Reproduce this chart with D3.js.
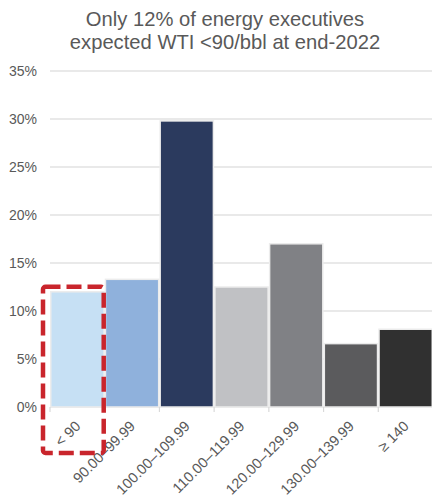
<!DOCTYPE html>
<html>
<head>
<meta charset="utf-8">
<script src="https://cdn.jsdelivr.net/npm/d3@7"></script>
<style>
  html, body { margin: 0; padding: 0; background: #ffffff; }
  svg { display: block; font-family: "Liberation Sans", Arial, Helvetica, sans-serif; }
</style>
</head>
<body>
<svg id="chart" width="432" height="500"></svg>
<script>
// WTI price buckets ($/bbl) and share of respondents (%)
const categories = ["< 90", "90.00–99.99", "100.00–109.99", "110.00–119.99", "120.00–129.99", "130.00–139.99", "≥ 140"];
const shares = [12.0, 13.3, 29.8, 12.5, 17.0, 6.6, 8.1];
const barColors = ["#c6e0f4", "#8fb1dc", "#2b3a5e", "#c0c1c4", "#808185", "#5b5b5d", "#303030"];
const yTicks = [0, 5, 10, 15, 20, 25, 30, 35];
const titleLines = ["Only 12% of energy executives", "expected WTI <90/bbl at end-2022"];
const highlighted = "< 90";

const svg = d3.select("#chart");
const margin = { left: 50, right: -1, top: 71, bottom: 93 };
const width = 432, height = 500;

const x = d3.scaleBand()
  .domain(categories)
  .range([margin.left, width - margin.right])
  .paddingInner(0)
  .paddingOuter(0);

const y = d3.scaleLinear()
  .domain([0, 35])
  .range([height - margin.bottom, margin.top]);

// Title
svg.append("text")
  .attr("x", 225)
  .attr("y", 26)
  .attr("text-anchor", "middle")
  .attr("fill", "#595959")
  .style("font-size", "20.2px")
  .selectAll("tspan")
  .data(titleLines)
  .join("tspan")
  .attr("x", 225)
  .attr("dy", (d, i) => i === 0 ? 0 : 22.5)
  .text(d => d);

// Gridlines
svg.append("g")
  .selectAll("line")
  .data(yTicks)
  .join("line")
  .attr("x1", margin.left)
  .attr("x2", width)
  .attr("y1", d => y(d))
  .attr("y2", d => y(d))
  .attr("stroke", "#e2e2e2")
  .attr("stroke-width", 1.3);

// Y axis labels
const yAxis = d3.axisLeft(y)
  .tickValues(yTicks)
  .tickSize(0)
  .tickPadding(13)
  .tickFormat(d => d + "%");

svg.append("g")
  .attr("transform", `translate(${margin.left},0)`)
  .call(yAxis)
  .call(g => g.select(".domain").remove())
  .call(g => g.selectAll("text")
    .attr("fill", "#595959")
    .style("font-size", "14px")
    .style("font-family", "\"Liberation Sans\", Arial, sans-serif"));

// Bars
svg.append("g")
  .selectAll("rect")
  .data(categories)
  .join("rect")
  .attr("x", d => x(d) + 0.75)
  .attr("width", x.bandwidth() - 1.5)
  .attr("y", (d, i) => y(shares[i]))
  .attr("height", (d, i) => y(0) - y(shares[i]))
  .attr("fill", (d, i) => barColors[i])
  .attr("stroke", "#ececec")
  .attr("stroke-width", 1.5);

// Category tick marks at band boundaries
svg.append("g")
  .selectAll("line")
  .data(categories)
  .join("line")
  .attr("x1", d => x(d))
  .attr("x2", d => x(d))
  .attr("y1", y(0))
  .attr("y2", y(0) + 5)
  .attr("stroke", "#d9d9d9")
  .attr("stroke-width", 1.2);

// Rotated category labels
svg.append("g")
  .selectAll("text")
  .data(categories)
  .join("text")
  .attr("transform", d => `translate(${x(d) + x.bandwidth() / 2 + 4},${y(0) + 20}) rotate(-45)`)
  .attr("text-anchor", "end")
  .attr("fill", "#595959")
  .style("font-size", "14.5px")
  .text(d => d);

// Dashed callout around the lowest bucket
const hx = x(highlighted);
svg.append("rect")
  .attr("x", hx - 7)
  .attr("y", y(shares[0]) - 5)
  .attr("width", x.bandwidth() + 6)
  .attr("height", (y(0) + 46) - (y(shares[0]) - 5))
  .attr("rx", 2.5)
  .attr("fill", "none")
  .attr("stroke", "#c9252c")
  .attr("stroke-width", 4.5)
  .attr("stroke-dasharray", "15,6");
</script>
</body>
</html>
